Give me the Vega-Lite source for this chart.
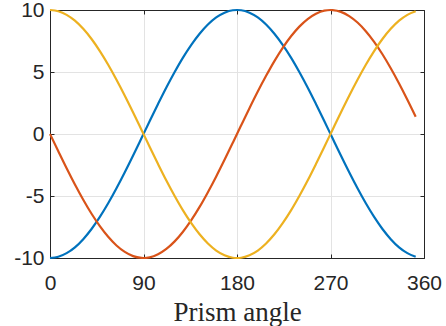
{
"$schema": "https://vega.github.io/schema/vega-lite/v6.json",
"width": 374, "height": 248,
"autosize": "none",
"padding": {"left": 50, "top": 10, "right": 22, "bottom": 68},
"background": "white",
"view": {"stroke": null},
"data": {"values": [
{"a":0,"s":"blue","v":-10},{"a":8,"s":"blue","v":-9.9},{"a":16,"s":"blue","v":-9.61},{"a":24,"s":"blue","v":-9.14},{"a":32,"s":"blue","v":-8.48},{"a":40,"s":"blue","v":-7.66},{"a":48,"s":"blue","v":-6.69},{"a":56,"s":"blue","v":-5.59},{"a":64,"s":"blue","v":-4.38},{"a":72,"s":"blue","v":-3.09},{"a":80,"s":"blue","v":-1.74},{"a":88,"s":"blue","v":-0.35},{"a":96,"s":"blue","v":1.05},{"a":104,"s":"blue","v":2.42},{"a":112,"s":"blue","v":3.75},{"a":120,"s":"blue","v":5},{"a":128,"s":"blue","v":6.16},{"a":136,"s":"blue","v":7.19},{"a":144,"s":"blue","v":8.09},{"a":152,"s":"blue","v":8.83},{"a":160,"s":"blue","v":9.4},{"a":168,"s":"blue","v":9.78},{"a":176,"s":"blue","v":9.98},{"a":180,"s":"blue","v":10},{"a":184,"s":"blue","v":9.98},{"a":192,"s":"blue","v":9.78},{"a":200,"s":"blue","v":9.4},{"a":208,"s":"blue","v":8.83},{"a":216,"s":"blue","v":8.09},{"a":224,"s":"blue","v":7.19},{"a":232,"s":"blue","v":6.16},{"a":240,"s":"blue","v":5},{"a":248,"s":"blue","v":3.75},{"a":256,"s":"blue","v":2.42},{"a":264,"s":"blue","v":1.05},{"a":272,"s":"blue","v":-0.35},{"a":280,"s":"blue","v":-1.74},{"a":288,"s":"blue","v":-3.09},{"a":296,"s":"blue","v":-4.38},{"a":304,"s":"blue","v":-5.59},{"a":312,"s":"blue","v":-6.69},{"a":320,"s":"blue","v":-7.66},{"a":328,"s":"blue","v":-8.48},{"a":336,"s":"blue","v":-9.14},{"a":344,"s":"blue","v":-9.61},{"a":352,"s":"blue","v":-9.9},
{"a":0,"s":"orange","v":0},{"a":8,"s":"orange","v":-1.39},{"a":16,"s":"orange","v":-2.76},{"a":24,"s":"orange","v":-4.07},{"a":32,"s":"orange","v":-5.3},{"a":40,"s":"orange","v":-6.43},{"a":48,"s":"orange","v":-7.43},{"a":56,"s":"orange","v":-8.29},{"a":64,"s":"orange","v":-8.99},{"a":72,"s":"orange","v":-9.51},{"a":80,"s":"orange","v":-9.85},{"a":88,"s":"orange","v":-9.99},{"a":90,"s":"orange","v":-10},{"a":96,"s":"orange","v":-9.95},{"a":104,"s":"orange","v":-9.7},{"a":112,"s":"orange","v":-9.27},{"a":120,"s":"orange","v":-8.66},{"a":128,"s":"orange","v":-7.88},{"a":136,"s":"orange","v":-6.95},{"a":144,"s":"orange","v":-5.88},{"a":152,"s":"orange","v":-4.69},{"a":160,"s":"orange","v":-3.42},{"a":168,"s":"orange","v":-2.08},{"a":176,"s":"orange","v":-0.7},{"a":184,"s":"orange","v":0.7},{"a":192,"s":"orange","v":2.08},{"a":200,"s":"orange","v":3.42},{"a":208,"s":"orange","v":4.69},{"a":216,"s":"orange","v":5.88},{"a":224,"s":"orange","v":6.95},{"a":232,"s":"orange","v":7.88},{"a":240,"s":"orange","v":8.66},{"a":248,"s":"orange","v":9.27},{"a":256,"s":"orange","v":9.7},{"a":264,"s":"orange","v":9.95},{"a":270,"s":"orange","v":10},{"a":272,"s":"orange","v":9.99},{"a":280,"s":"orange","v":9.85},{"a":288,"s":"orange","v":9.51},{"a":296,"s":"orange","v":8.99},{"a":304,"s":"orange","v":8.29},{"a":312,"s":"orange","v":7.43},{"a":320,"s":"orange","v":6.43},{"a":328,"s":"orange","v":5.3},{"a":336,"s":"orange","v":4.07},{"a":344,"s":"orange","v":2.76},{"a":352,"s":"orange","v":1.39},
{"a":0,"s":"yellow","v":10},{"a":8,"s":"yellow","v":9.9},{"a":16,"s":"yellow","v":9.61},{"a":24,"s":"yellow","v":9.14},{"a":32,"s":"yellow","v":8.48},{"a":40,"s":"yellow","v":7.66},{"a":48,"s":"yellow","v":6.69},{"a":56,"s":"yellow","v":5.59},{"a":64,"s":"yellow","v":4.38},{"a":72,"s":"yellow","v":3.09},{"a":80,"s":"yellow","v":1.74},{"a":88,"s":"yellow","v":0.35},{"a":96,"s":"yellow","v":-1.05},{"a":104,"s":"yellow","v":-2.42},{"a":112,"s":"yellow","v":-3.75},{"a":120,"s":"yellow","v":-5},{"a":128,"s":"yellow","v":-6.16},{"a":136,"s":"yellow","v":-7.19},{"a":144,"s":"yellow","v":-8.09},{"a":152,"s":"yellow","v":-8.83},{"a":160,"s":"yellow","v":-9.4},{"a":168,"s":"yellow","v":-9.78},{"a":176,"s":"yellow","v":-9.98},{"a":180,"s":"yellow","v":-10},{"a":184,"s":"yellow","v":-9.98},{"a":192,"s":"yellow","v":-9.78},{"a":200,"s":"yellow","v":-9.4},{"a":208,"s":"yellow","v":-8.83},{"a":216,"s":"yellow","v":-8.09},{"a":224,"s":"yellow","v":-7.19},{"a":232,"s":"yellow","v":-6.16},{"a":240,"s":"yellow","v":-5},{"a":248,"s":"yellow","v":-3.75},{"a":256,"s":"yellow","v":-2.42},{"a":264,"s":"yellow","v":-1.05},{"a":272,"s":"yellow","v":0.35},{"a":280,"s":"yellow","v":1.74},{"a":288,"s":"yellow","v":3.09},{"a":296,"s":"yellow","v":4.38},{"a":304,"s":"yellow","v":5.59},{"a":312,"s":"yellow","v":6.69},{"a":320,"s":"yellow","v":7.66},{"a":328,"s":"yellow","v":8.48},{"a":336,"s":"yellow","v":9.14},{"a":344,"s":"yellow","v":9.61},{"a":352,"s":"yellow","v":9.9}
]},
"resolve": {"axis": {"x": "independent", "y": "independent"}},
"layer": [
{
"mark": {"type": "line", "strokeWidth": 2.2, "interpolate": "monotone", "clip": false},
"encoding": {
"x": {"field": "a", "type": "quantitative", "scale": {"domain": [0, 360], "nice": false, "zero": false},
"axis": {"orient": "bottom", "values": [0, 90, 180, 270, 360], "title": "Prism angle", "titleFont": "Liberation Serif, Times New Roman, Times, serif", "titleFontSize": 27, "titleFontWeight": "normal", "titleColor": "#262626", "titlePadding": 6,
"labelFont": "Liberation Sans, Arial, Helvetica, sans-serif", "labelFontSize": 21, "labelColor": "#262626", "labelPadding": 18, "labelFlush": false,
"labelExpr": "datum.value < 0 ? '-' + abs(datum.value) : '' + datum.value",
"tickSize": -4, "tickColor": "#262626", "domainColor": "#262626", "domainWidth": 1,
"grid": true, "gridColor": "#e3e3e3", "gridWidth": 1}},
"y": {"field": "v", "type": "quantitative", "scale": {"domain": [-10, 10], "nice": false, "zero": false},
"axis": {"orient": "left", "values": [-10, -5, 0, 5, 10], "title": null,
"labelFont": "Liberation Sans, Arial, Helvetica, sans-serif", "labelFontSize": 21, "labelColor": "#262626", "labelPadding": 10,
"labelExpr": "datum.value < 0 ? '-' + abs(datum.value) : '' + datum.value",
"tickSize": -4, "tickColor": "#262626", "domainColor": "#262626", "domainWidth": 1,
"grid": true, "gridColor": "#e3e3e3", "gridWidth": 1}},
"color": {"field": "s", "type": "nominal", "legend": null,
"scale": {"domain": ["blue", "orange", "yellow"], "range": ["#0072BD", "#D95319", "#EDB120"]}}
}
},
{
"mark": {"type": "line", "strokeOpacity": 0},
"encoding": {
"x": {"field": "a", "type": "quantitative",
"axis": {"orient": "top", "values": [0, 90, 180, 270, 360], "title": null, "labels": false, "tickSize": -4, "tickColor": "#262626", "domainColor": "#262626", "grid": false}},
"y": {"field": "v", "type": "quantitative",
"axis": {"orient": "right", "values": [-10, -5, 0, 5, 10], "title": null, "labels": false, "tickSize": -4, "tickColor": "#262626", "domainColor": "#262626", "grid": false}},
"detail": {"field": "s"}
}
}
]
}
